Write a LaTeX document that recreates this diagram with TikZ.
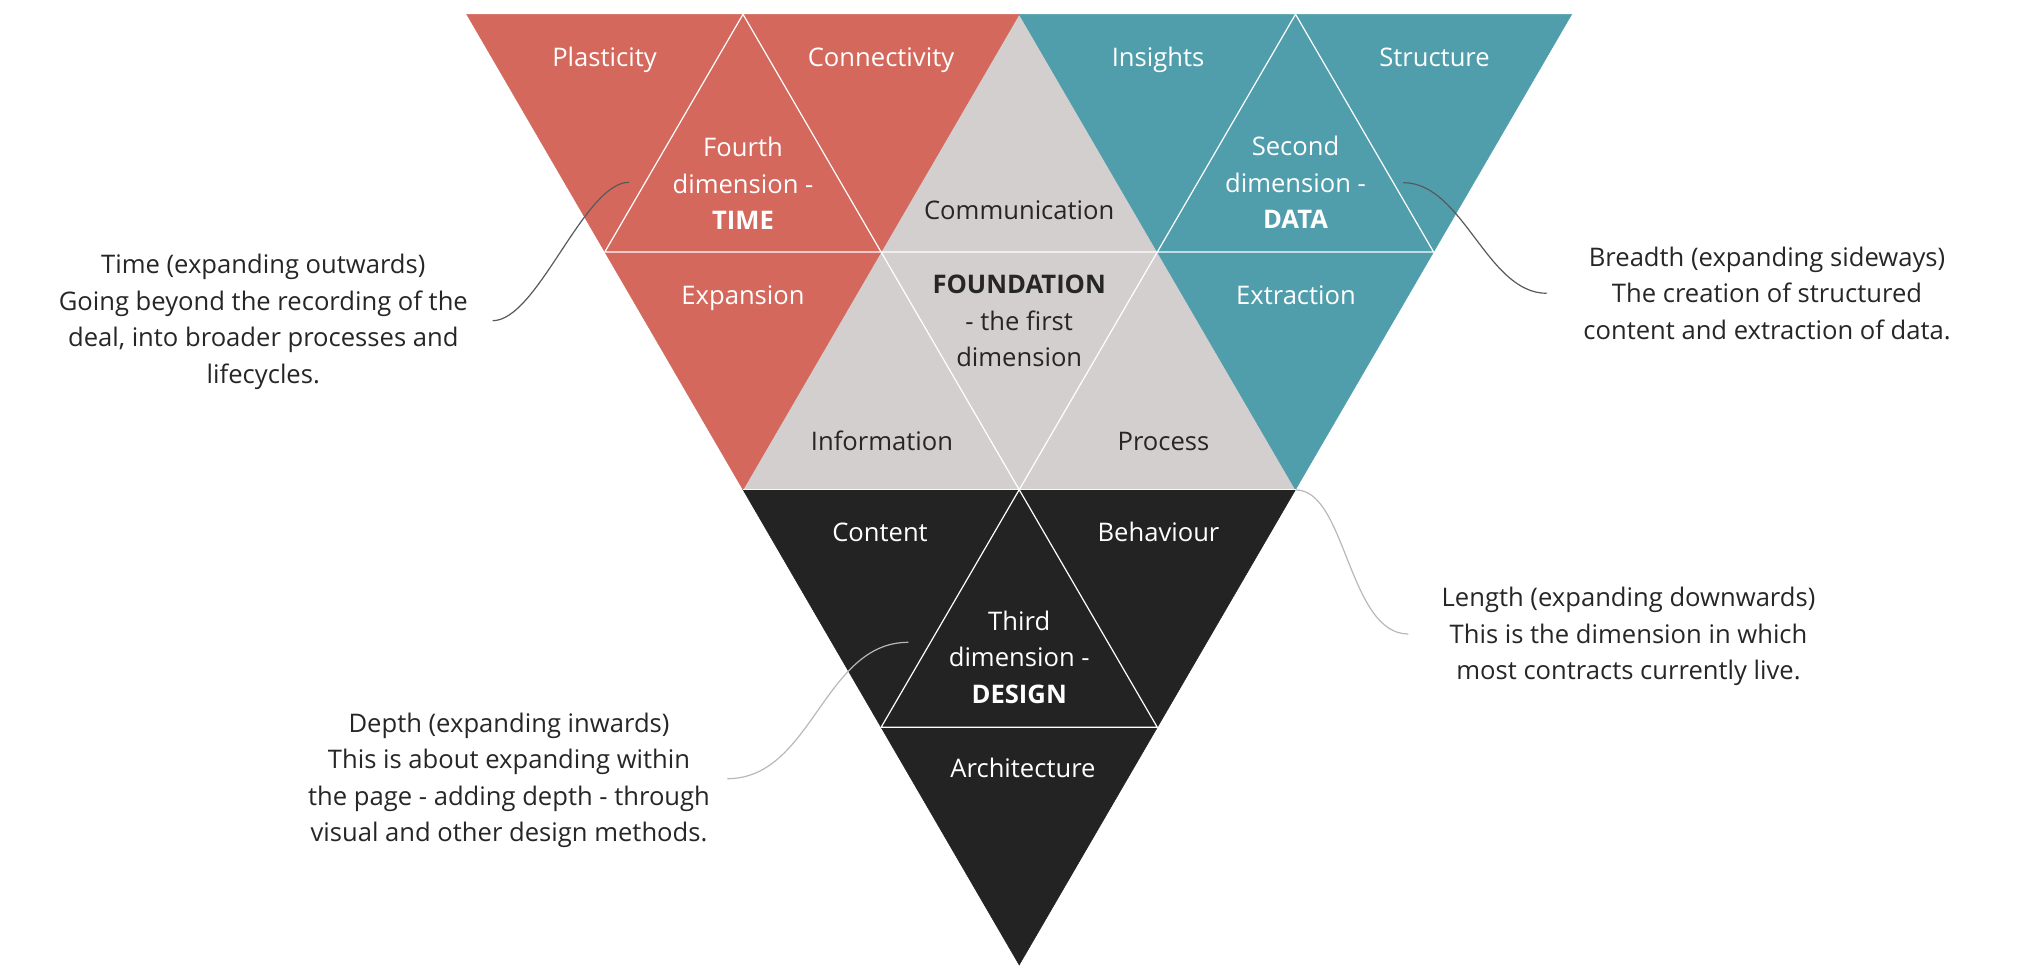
\documentclass[tikz,border=0pt]{standalone}
\usepackage{fontspec}
\setmainfont{Open Sans}
\definecolor{tred}{HTML}{D4685C}
\definecolor{tteal}{HTML}{509EAC}
\definecolor{tgray}{HTML}{D3CFCF}
\definecolor{tblack}{HTML}{232323}
\definecolor{ttext}{HTML}{262626}
\begin{document}
\begin{tikzpicture}[x=1pt,y=-1pt,
  lbl/.style={font=\fontsize{25.6}{36.5}\selectfont, align=center, inner sep=0pt},
  wlbl/.style={lbl, text=white},
  dlbl/.style={lbl, text=ttext},
  wword/.style={wlbl, anchor=base},
  dword/.style={dlbl, anchor=base},
  gridline/.style={draw=white, line width=1.2pt, line join=round},
  darklead/.style={draw=black!65, line width=1.2pt},
  lightlead/.style={draw=black!28, line width=1.2pt}]
\useasboundingbox (0,0) rectangle (2026,971);
% lattice
\coordinate (t0) at (466.7,14.3);
\coordinate (t1) at (743,14.3);
\coordinate (t2) at (1019.2,14.3);
\coordinate (t3) at (1295.5,14.3);
\coordinate (t4) at (1571.7,14.3);
\coordinate (m0) at (604.8,252);
\coordinate (m1) at (881.1,252);
\coordinate (m2) at (1157.3,252);
\coordinate (m3) at (1433.6,252);
\coordinate (b0) at (743,489.7);
\coordinate (b1) at (1019.2,489.7);
\coordinate (b2) at (1295.5,489.7);
\coordinate (c0) at (881.1,727.3);
\coordinate (c1) at (1157.3,727.3);
\coordinate (z) at (1019.2,965);
% big triangles
\filldraw[fill=tgray, draw=tgray, line width=0.5pt] (t2) -- (b2) -- (b0) -- cycle;
\filldraw[fill=tred, draw=tred, line width=0.5pt] (t0) -- (t2) -- (b0) -- cycle;
\filldraw[fill=tteal, draw=tteal, line width=0.5pt] (t2) -- (t4) -- (b2) -- cycle;
\filldraw[fill=tblack, draw=tblack, line width=0.5pt] (b0) -- (b2) -- (z) -- cycle;
% subdivisions
\draw[gridline] (t1) -- (m0) -- (m1) -- cycle;
\draw[gridline] (m1) -- (m2) -- (b1) -- cycle;
\draw[gridline] (t3) -- (m2) -- (m3) -- cycle;
\draw[gridline] (b1) -- (c0) -- (c1) -- cycle;
\draw[draw=white!85!tgray, line width=1.2pt] (b0) -- (b2);
% labels in triangles
\node[wword] (plast) at (604.5,67) {Plasticity};
\node[wword] (conn) at (881,67) {Connectivity};
\node[wword] (ins) at (1158,67) {Insights};
\node[wword] (struc) at (1434.5,67) {Structure};
\node[wlbl] (fourth) at (743,183.3) {Fourth\\dimension -\\\textbf{TIME}};
\node[dword] (comm) at (1019.2,219.5) {Communication};
\node[wlbl] (second) at (1295.5,182.5) {Second\\dimension -\\\textbf{DATA}};
\node[wword] (expa) at (743,304.3) {Expansion};
\node[dlbl] (found) at (1019.2,321.2) {\textbf{FOUNDATION}\\- the first\\dimension};
\node[wword] (extr) at (1296,304) {Extraction};
\node[dword] (info) at (882,450.5) {Information};
\node[dword] (proc) at (1163.5,450.5) {Process};
\node[wword] (cont) at (880,541.5) {Content};
\node[wword] (beh) at (1158.5,541.5) {Behaviour};
\node[wlbl] (third) at (1019.2,657.3) {Third\\dimension -\\\textbf{DESIGN}};
\node[wword] (arch) at (1023,777.5) {Architecture};
% annotations
\node[dlbl] (timetxt) at (263.3,322) {Time (expanding outwards)\\Going beyond the recording of the\\deal, into broader processes and\\lifecycles.};
\node[dlbl] (breadtxt) at (1767,293) {Breadth (expanding sideways)\\The creation of structured\\content and extraction of data.};
\node[dlbl] (lentxt) at (1628.5,636.5) {Length (expanding downwards)\\This is the dimension in which\\most contracts currently live.};
\node[dlbl] (deptxt) at (509,780.5) {Depth (expanding inwards)\\This is about expanding within\\the page - adding depth - through\\visual and other design methods.};
% leader ends
\coordinate (timeA) at (492.6,320.7);
\coordinate (timeB) at (629,182.3);
\coordinate (breadA) at (1403.3,182.7);
\coordinate (breadB) at (1546.7,293.3);
\coordinate (lenA) at (1296,490);
\coordinate (lenB) at (1408.3,634);
\coordinate (depA) at (908.3,642.3);
\coordinate (depB) at (727.3,778.7);
\draw[darklead] (timeA) .. controls +(45,0) and +(-45,0) .. (timeB);
\draw[darklead] (breadA) .. controls +(60,0) and +(-60,0) .. (breadB);
\draw[lightlead] (lenA) .. controls +(50,0) and +(-60,0) .. (lenB);
\draw[lightlead] (depA) .. controls +(-85,0) and +(85,0) .. (depB);
\end{tikzpicture}
\end{document}
